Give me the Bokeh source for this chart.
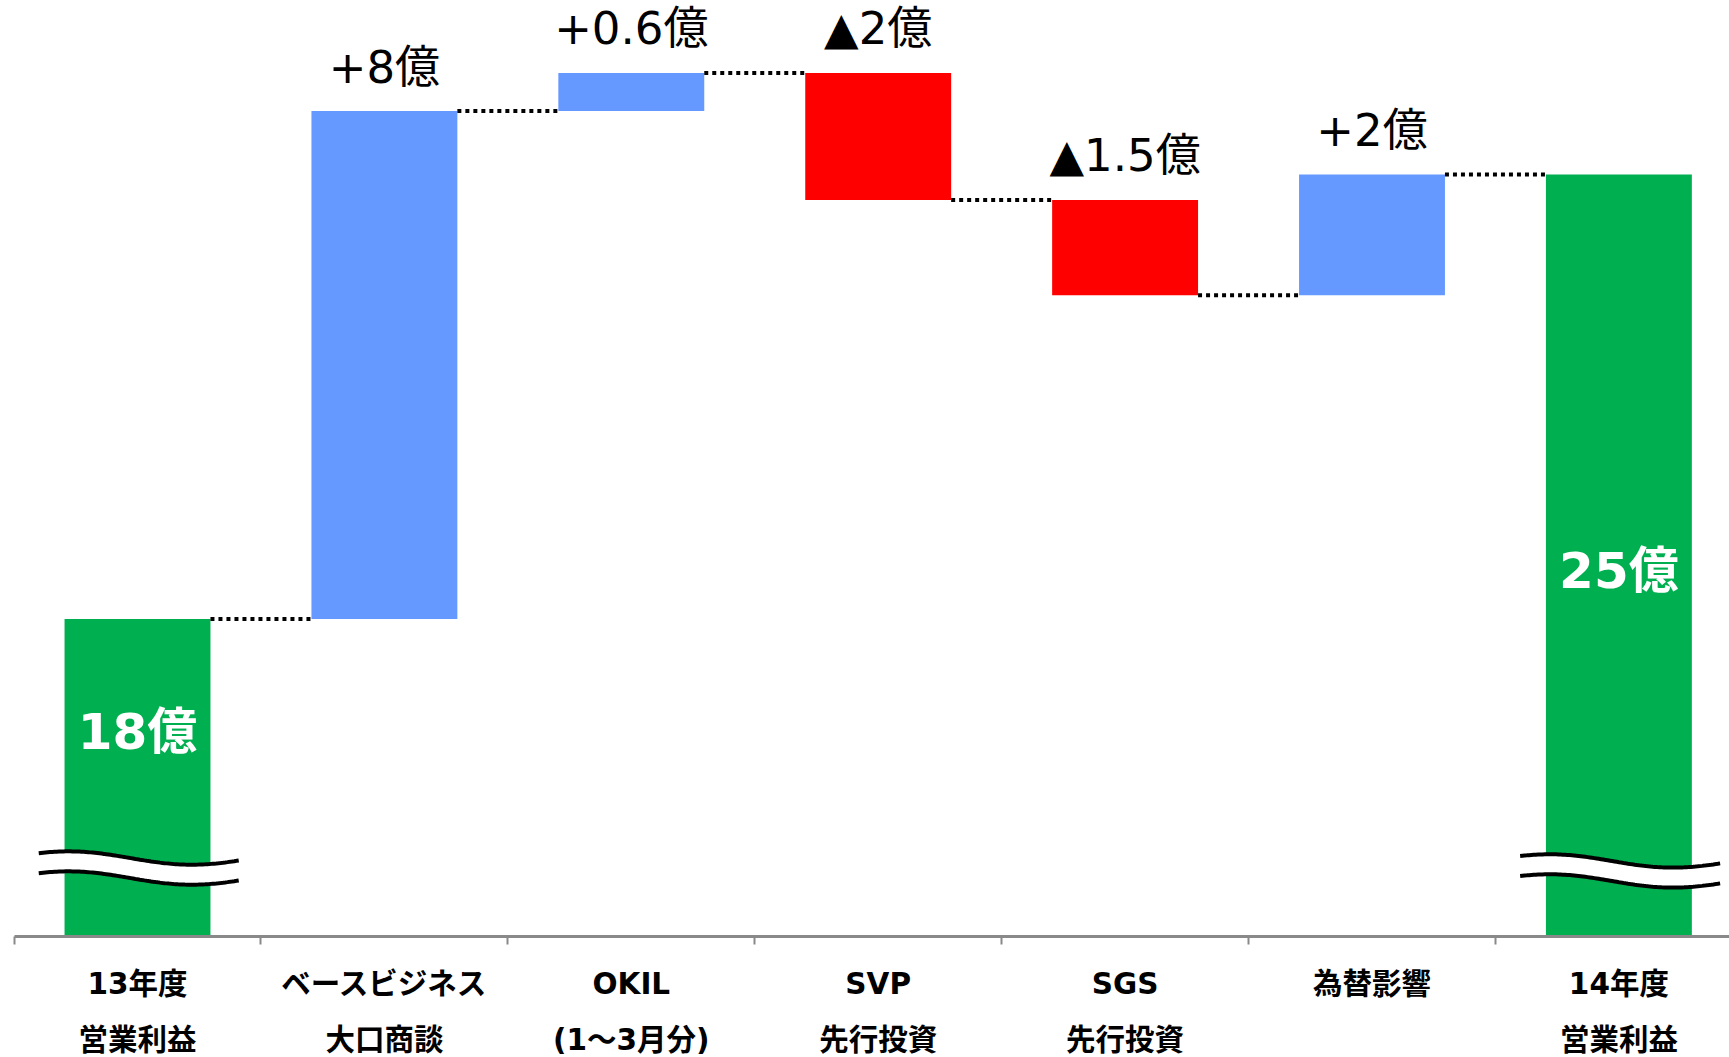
import numpy as np
from bokeh.plotting import figure
from bokeh.models import Range1d, FixedTicker, LinearAxis
from bokeh.core.properties import value
from bokeh.embed import file_html
from bokeh.resources import INLINE

# ---------------- data ----------------
cat_line1 = ["13年度", "ベースビジネス", "OKIL", "SVP", "SGS", "為替影響", "14年度"]
cat_line2 = ["営業利益", "大口商談", "(1～3月分)", "先行投資", "先行投資", "", "営業利益"]
start_total = 18.0          # 13年度 営業利益 (億)
changes = [8.0, 0.6, -2.0, -1.5, 1.9]
end_total = 25.0            # 14年度 営業利益 (億)
change_labels = ["+8億", "+0.6億", "▲2億", "▲1.5億", "+2億"]
total_labels = ["18億", "25億"]
axis_base = 13.0            # broken axis starts here

# ---------------- layout / style ----------------
GREEN, BLUE, RED = "#00B050", "#6699FF", "#FF0000"
AXIS_GRAY = "#898989"
PX_PER_UNIT = 63.5
FRAME_W, FRAME_H = 1729, 936
CAT_PX = 246.9
FIRST_CENTER_PX = 137.0     # center of first category, from frame left
BAR_W = 0.591
LATIN_CJK = "DejaVu Sans, Noto Sans CJK JP"

x_start = -FIRST_CENTER_PX / CAT_PX
x_end = x_start + FRAME_W / CAT_PX
y_start = axis_base
y_end = axis_base + FRAME_H / PX_PER_UNIT

n = len(cat_line1)
xs = list(range(n))

levels = [start_total]
for c in changes:
    levels.append(levels[-1] + c)

bottoms = [axis_base] + [min(levels[k], levels[k + 1]) for k in range(len(changes))] + [axis_base]
tops = [start_total] + [max(levels[k], levels[k + 1]) for k in range(len(changes))] + [end_total]
colors = [GREEN] + [BLUE if c > 0 else RED for c in changes] + [GREEN]

p = figure(frame_width=FRAME_W, frame_height=FRAME_H,
           x_range=Range1d(x_start, x_end), y_range=Range1d(y_start, y_end),
           output_backend="svg", toolbar_location=None,
           min_border_left=0, min_border_right=0, min_border_top=0, min_border_bottom=0,
           y_axis_location=None, x_axis_location="below",
           background_fill_color="white", border_fill_color="white")
p.outline_line_color = None
p.xgrid.visible = False
p.ygrid.visible = False

# bars
p.vbar(x=xs, width=BAR_W, bottom=bottoms, top=tops, fill_color=colors, line_color=None)

# dotted connectors
hw = BAR_W / 2
cx0 = [i + hw for i in range(n - 1)]
cx1 = [i + 1 - hw for i in range(n - 1)]
cy = levels[:]  # level after each bar 0..5
p.segment(x0=cx0, y0=cy, x1=cx1, y1=cy, line_color="black", line_width=4,
          line_dash="4 4", line_cap="butt")

# change labels above bars
lab_gap = 44 / PX_PER_UNIT
p.text(x=xs[1:-1], y=[t + lab_gap for t in tops[1:-1]], text=change_labels,
       text_font=value(LATIN_CJK), text_font_size="45px", text_color="black",
       text_align="center", text_baseline="alphabetic")

# axis-break marks on the two total bars
break_y = [14.236, 14.19]
band = 20 / PX_PER_UNIT
for xi, yc in zip([xs[0], xs[-1]], break_y):
    dx = np.linspace(-0.40, 0.41, 90)
    yu = yc + 0.105 * np.cos(2 * np.pi * (dx + 0.28))
    yl = yu - band
    p.varea(x=xi + dx, y1=yl, y2=yu, fill_color="white")
    p.line(x=xi + dx, y=yu, line_color="black", line_width=4)
    p.line(x=xi + dx, y=yl, line_color="black", line_width=4)

# total labels inside green bars
inner_baseline = [16.22, 18.756]
p.text(x=[xs[0], xs[-1]], y=inner_baseline, text=total_labels,
       text_font=value(LATIN_CJK), text_font_size="50px", text_font_style="bold",
       text_color="white", text_align="center", text_baseline="alphabetic")

# x axis: line 1 labels + category boundary ticks
ax = p.xaxis[0]
ax.ticker = FixedTicker(ticks=xs, minor_ticks=[i - 0.5 for i in range(n + 1)])
ax.bounds = (-0.5, x_end)
ax.major_label_overrides = {i: s for i, s in enumerate(cat_line1)}
ax.axis_line_color = AXIS_GRAY
ax.axis_line_width = 3
ax.major_tick_line_color = None
ax.major_tick_out = 8
ax.major_tick_in = 0
ax.minor_tick_line_color = AXIS_GRAY
ax.minor_tick_line_width = 2
ax.minor_tick_out = 8
ax.minor_tick_in = 0
ax.major_label_standoff = 22
ax.major_label_text_font = LATIN_CJK
ax.major_label_text_font_style = "bold"
ax.major_label_text_font_size = "29.5px"
ax.major_label_text_color = "black"

# second line of category labels
ax2 = LinearAxis(ticker=FixedTicker(ticks=xs),
                 major_label_overrides={i: s for i, s in enumerate(cat_line2)})
ax2.axis_line_color = None
ax2.major_tick_line_color = None
ax2.minor_tick_line_color = None
ax2.major_tick_out = 0
ax2.major_tick_in = 0
ax2.minor_tick_out = 0
ax2.minor_tick_in = 0
ax2.major_label_standoff = 19
ax2.major_label_text_font = LATIN_CJK
ax2.major_label_text_font_style = "bold"
ax2.major_label_text_font_size = "29.5px"
ax2.major_label_text_color = "black"
p.add_layout(ax2, "below")

open("out.html", "w").write(file_html(p, INLINE))
